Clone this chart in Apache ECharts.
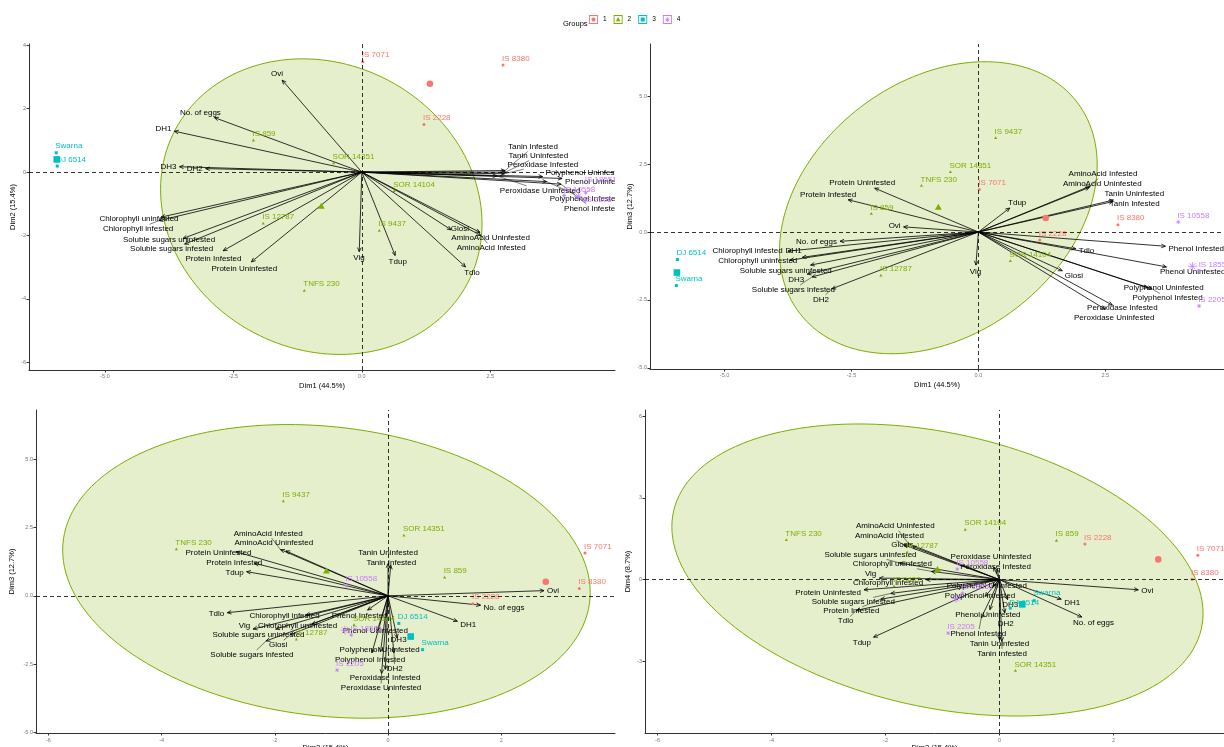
<!DOCTYPE html>
<html>
<head>
<meta charset="utf-8">
<title>PCA biplots of sorghum genotypes</title>
<script src="https://cdn.jsdelivr.net/npm/echarts@6/dist/echarts.min.js"></script>
<style>
  html, body { margin: 0; padding: 0; background: #ffffff; }
  #chart { width: 1224px; height: 747px; }
</style>
</head>
<body>
<div id="chart"></div>
<script>
// ---- Individuals (genotypes), their group and PC scores ----
const groupNames = ['1', '2', '3', '4'];
const genotypes = ['IS 7071', 'IS 8380', 'IS 2228', 'IS 859', 'SOR 14351', 'SOR 14104', 'IS 9437',
                   'IS 12787', 'TNFS 230', 'Swarna', 'DJ 6514', 'IS 18551', 'IS 10558', 'IS 2205'];
const genotypeGroup = [1, 1, 1, 2, 2, 2, 2, 2, 2, 3, 3, 4, 4, 4];
const indDim1 = [0.02, 2.75, 1.21, -2.11, -0.55, 0.63, 0.34, -1.92, -1.12, -5.95, -5.93, 4.36, 3.94, 4.35];
const indDim2 = [3.48, 3.38, 1.50, 1.00, 0.28, -0.60, -1.85, -1.62, -3.74, 0.61, 0.19, -0.65, -0.74, -0.90];
const indDim3 = [1.57, 0.27, -0.29, 0.67, 2.21, -1.07, 3.46, -1.60, 1.70, -1.97, -1.01, -1.43, 0.37, -2.72];
const indDim4 = [0.90, 0.02, 1.31, 1.43, -3.34, 1.83, -0.24, 1.00, 1.45, -0.77, -1.04, -0.50, 0.39, -1.96];

// ---- Variables (arrows) and their biplot coordinates ----
const variables = ['Ovi', 'No. of eggs', 'DH1', 'DH3', 'DH2', 'Chlorophyll uninfested', 'Chlorophyll infested',
                   'Soluble sugars uninfested', 'Soluble sugars infested', 'Protein Infested', 'Protein Uninfested',
                   'Vig', 'Tdup', 'Tdlo', 'Glosi', 'AminoAcid Infested', 'AminoAcid Uninfested', 'Tanin Infested',
                   'Tanin Uninfested', 'Peroxidase Infested', 'Peroxidase Uninfested', 'Polyphenol Uninfested',
                   'Polyphenol Infested', 'Phenol Uninfested', 'Phenol Infested'];
const varDim1 = [-1.55, -2.87, -3.65, -3.55, -3.04, -3.91, -3.95, -3.48, -3.45, -2.70, -2.15,
                 -0.05, 0.65, 2.02, 1.74, 2.32, 2.30, 2.79, 2.80, 2.78, 2.63, 3.52, 3.60, 3.90, 3.88];
const varDim2 = [2.90, 1.72, 1.29, 0.17, 0.11, -1.42, -1.53, -2.09, -2.27, -2.48, -2.83,
                 -2.51, -2.63, -2.99, -1.82, -2.00, -1.90, 0.05, 0.00, -0.05, -0.12, -0.14, -0.30, -0.20, -0.38];
const varDim3 = [0.20, -0.36, -0.98, -1.63, -2.20, -1.09, -0.74, -1.28, -1.74, 1.25, 1.70,
                 -1.28, 0.93, -0.65, -1.50, 1.78, 1.73, 1.18, 1.24, -2.83, -2.99, -2.16, -2.20, -1.35, -0.55];
const varDim4 = [-0.44, -1.63, -0.85, -0.87, -1.45, 0.36, 0.00, 0.73, -0.60, -0.85, -0.44,
                 0.07, -2.51, -1.34, 1.45, 1.52, 1.57, -2.69, -2.62, 0.46, 0.55, -0.29, -0.73, -1.31, -1.67];

// ---- Panels: which dimensions go on x / y, and the arrow scaling of each biplot ----
const dimLabels = ['Dim1 (44.5%)', 'Dim2 (15.4%)', 'Dim3 (12.7%)', 'Dim4 (8.7%)'];
const panelDims = [[0, 1], [0, 2], [1, 2], [1, 3]];
const arrowScale = [1.00, 0.95, 0.95, 0.84];
const xTickValues = [[-5, -2.5, 0, 2.5], [-5, -2.5, 0, 2.5], [-6, -4, -2, 0, 2], [-6, -4, -2, 0, 2]];
const yTickValues = [[-6, -4, -2, 0, 2, 4], [-5, -2.5, 0, 2.5, 5], [-5, -2.5, 0, 2.5, 5], [-3, 0, 3, 6]];
const xTickDecimals = [1, 1, 0, 0];
const yTickDecimals = [0, 1, 1, 0];
const axisRanges = [
  { x: [-6.48, 4.93], y: [-6.24, 4.04] },
  { x: [-6.47, 4.84], y: [-5.04, 6.92] },
  { x: [-6.22, 4.01], y: [-5.02, 6.80] },
  { x: [-6.22, 3.94], y: [-5.62, 6.22] }
];
const ellipseGroup = 2;      // only group 2 has enough genotypes for an ellipse
const ellipseLevel = 0.90;

// ---- Layout and styling ----
const gridBoxes = [
  { left: 29, top: 44, width: 586, height: 326 },
  { left: 650, top: 44, width: 574, height: 325 },
  { left: 36, top: 410, width: 579, height: 323 },
  { left: 645, top: 410, width: 579, height: 323 }
];
const yNameGap = [12, 15, 20, 13];
const xNameGap = [12, 12, 11, 11];
const xLabelMargin = [3, 3, 4, 4];
const groupColors = ['#F8766D', '#7CAE00', '#00BFC4', '#C77CFF'];
const FONT = '"Liberation Sans", Arial, Helvetica, sans-serif';
const labelSize = 8;
const labelHeight = 9;

const dims = [indDim1, indDim2, indDim3, indDim4];
const vdims = [varDim1, varDim2, varDim3, varDim4];

const measureCtx = document.createElement('canvas').getContext('2d');
function textWidth(s, size) {
  measureCtx.font = size + 'px ' + FONT;
  return measureCtx.measureText(s).width;
}

// Pixel scale of a panel, used only to lay out the text labels
function panelScale(p) {
  const b = gridBoxes[p], r = axisRanges[p];
  return { sx: b.width / (r.x[1] - r.x[0]), sy: b.height / (r.y[1] - r.y[0]) };
}

// Simple label repulsion: pushes overlapping boxes apart, with a weak pull back to the start
function repel(boxes) {
  const pos = boxes.map(b => [b.cx, b.cy]);
  const pad = 1;
  for (let it = 0; it < 400; it++) {
    for (let i = 0; i < boxes.length; i++) {
      for (let j = i + 1; j < boxes.length; j++) {
        const ox = (boxes[i].w + boxes[j].w) / 2 + pad - Math.abs(pos[i][0] - pos[j][0]);
        const oy = (boxes[i].h + boxes[j].h) / 2 + pad - Math.abs(pos[i][1] - pos[j][1]);
        if (ox > 0 && oy > 0) {
          if (oy <= ox) {
            const s = (pos[i][1] < pos[j][1] || (pos[i][1] === pos[j][1] && i < j)) ? -1 : 1;
            pos[i][1] += s * oy * 0.25; pos[j][1] -= s * oy * 0.25;
          } else {
            const s = pos[i][0] < pos[j][0] ? -1 : 1;
            pos[i][0] += s * ox * 0.25; pos[j][0] -= s * ox * 0.25;
          }
        }
      }
    }
    for (let i = 0; i < boxes.length; i++) {
      pos[i][0] += (boxes[i].cx - pos[i][0]) * 0.01;
      pos[i][1] += (boxes[i].cy - pos[i][1]) * 0.01;
    }
  }
  return pos;
}

// Shape of each group's marker (circle, triangle, square, asterisk)
function groupSymbol(g, c, s, color) {
  const x = c[0], y = c[1];
  if (g === 1) {
    return { type: 'circle', shape: { cx: x, cy: y, r: s }, style: { fill: color } };
  }
  if (g === 2) {
    return { type: 'polygon', shape: { points: [[x, y - s * 1.2], [x + s * 1.05, y + s * 0.65], [x - s * 1.05, y + s * 0.65]] },
             style: { fill: color } };
  }
  if (g === 3) {
    return { type: 'rect', shape: { x: x - s, y: y - s, width: 2 * s, height: 2 * s }, style: { fill: color } };
  }
  const r = s * 1.3, d = r * 0.7071;
  const segs = [[x - r, y, x + r, y], [x, y - r, x, y + r], [x - d, y - d, x + d, y + d], [x - d, y + d, x + d, y - d]];
  return {
    type: 'group',
    children: segs.map(q => ({ type: 'line', shape: { x1: q[0], y1: q[1], x2: q[2], y2: q[3] },
                               style: { stroke: color, lineWidth: 0.8 } }))
  };
}

// Leader line from an anchor to the edge of its label box, when the label has drifted away
function leader(anchor, cx, cy, w, h, color) {
  const vx = anchor[0] - cx, vy = anchor[1] - cy;
  const tx = Math.abs(vx) > 1e-6 ? (w / 2) / Math.abs(vx) : Infinity;
  const ty = Math.abs(vy) > 1e-6 ? (h / 2) / Math.abs(vy) : Infinity;
  const t = Math.min(tx, ty);
  if (t >= 1) return null;
  const ex = cx + vx * t, ey = cy + vy * t;
  if (Math.hypot(anchor[0] - ex, anchor[1] - ey) < 7) return null;
  return { type: 'line', shape: { x1: ex, y1: ey, x2: anchor[0], y2: anchor[1] },
           style: { stroke: color, lineWidth: 0.5 } };
}

// Normal-theory ellipse of one group, drawn through the panel's axes
function ellipseRenderer(dx, dy) {
  return function (params, api) {
    const xs = [], ys = [];
    genotypes.forEach((_, i) => {
      if (genotypeGroup[i] === ellipseGroup) { xs.push(dims[dx][i]); ys.push(dims[dy][i]); }
    });
    const n = xs.length;
    const mx = xs.reduce((a, b) => a + b, 0) / n;
    const my = ys.reduce((a, b) => a + b, 0) / n;
    let sxx = 0, syy = 0, sxy = 0;
    for (let i = 0; i < n; i++) {
      sxx += (xs[i] - mx) * (xs[i] - mx);
      syy += (ys[i] - my) * (ys[i] - my);
      sxy += (xs[i] - mx) * (ys[i] - my);
    }
    sxx /= (n - 1); syy /= (n - 1); sxy /= (n - 1);
    const d2 = n - 1;
    const fq = (d2 / 2) * (Math.pow(1 - ellipseLevel, -2 / d2) - 1);   // F(level; 2, n-1)
    const r = Math.sqrt(2 * fq);
    const l11 = Math.sqrt(sxx), l21 = sxy / l11, l22 = Math.sqrt(Math.max(syy - l21 * l21, 0));
    const pts = [];
    for (let k = 0; k < 160; k++) {
      const t = 2 * Math.PI * k / 160, c = Math.cos(t), s = Math.sin(t);
      pts.push(api.coord([mx + r * l11 * c, my + r * (l21 * c + l22 * s)]));
    }
    return { type: 'polygon', shape: { points: pts },
             style: { fill: 'rgba(124,174,0,0.2)', stroke: '#7CAE00', lineWidth: 1 } };
  };
}

// Variable arrows with open heads and their names (label offsets in data columns 3 and 4)
function arrowRenderer(params, api) {
  const i = api.value(2);
  const o = api.coord([0, 0]);
  const t = api.coord([api.value(0), api.value(1)]);
  const dx = t[0] - o[0], dy = t[1] - o[1];
  const ang = Math.atan2(dy, dx), head = 4.5, spread = 0.42;
  const h1 = [t[0] - head * Math.cos(ang - spread), t[1] - head * Math.sin(ang - spread)];
  const h2 = [t[0] - head * Math.cos(ang + spread), t[1] - head * Math.sin(ang + spread)];
  const label = variables[i];
  const cx = t[0] + api.value(3), cy = t[1] + api.value(4);
  const children = [
    { type: 'line', shape: { x1: o[0], y1: o[1], x2: t[0], y2: t[1] }, style: { stroke: '#000', lineWidth: 0.8 } },
    { type: 'polyline', shape: { points: [h1, t, h2] }, style: { stroke: '#000', lineWidth: 0.8, fill: 'none' } },
    { type: 'text', style: { text: label, x: cx, y: cy, fill: '#000',
                             fontSize: labelSize, fontFamily: FONT, align: 'center', verticalAlign: 'middle' } }
  ];
  const seg = leader(t, cx, cy, textWidth(label, labelSize), labelHeight, '#000');
  if (seg) children.push(seg);
  return { type: 'group', children: children };
}

// Genotype points (and group mean points) with their names
function pointRenderer(g) {
  const color = groupColors[g - 1];
  return function (params, api) {
    const idx = api.value(2);
    const c = api.coord([api.value(0), api.value(1)]);
    if (idx < 0) return groupSymbol(g, c, 3.3, color);
    const cx = c[0] + api.value(3), cy = c[1] + api.value(4);
    const children = [
      groupSymbol(g, c, 1.5, color),
      { type: 'text', style: { text: genotypes[idx], x: cx, y: cy, fill: color,
                               fontSize: labelSize, fontFamily: FONT, align: 'center', verticalAlign: 'middle' } }
    ];
    const seg = leader(c, cx, cy, textWidth(genotypes[idx], labelSize), labelHeight, color);
    if (seg) children.push(seg);
    return { type: 'group', children: children };
  };
}

const grids = [], xAxes = [], yAxes = [], series = [];
panelDims.forEach((pd, p) => {
  const [dx, dy] = pd;
  const sc = panelScale(p);
  grids.push(Object.assign({ containLabel: false, outerBoundsMode: 'none' }, gridBoxes[p]));
  const axisCommon = {
    type: 'value', gridIndex: p, splitLine: { show: false },
    axisLine: { show: true, onZero: false, lineStyle: { color: '#333', width: 1 } },
    nameLocation: 'middle', nameTextStyle: { fontSize: 7.5, fontFamily: FONT, color: '#000' }
  };
  xAxes.push(Object.assign({}, axisCommon, {
    min: axisRanges[p].x[0], max: axisRanges[p].x[1], name: dimLabels[dx], nameGap: xNameGap[p],
    axisTick: { show: true, length: 2.5, customValues: xTickValues[p], lineStyle: { color: '#333' } },
    axisLabel: { customValues: xTickValues[p], fontSize: 5.5, color: '#777', fontFamily: FONT, margin: xLabelMargin[p],
                 formatter: v => Number(v).toFixed(xTickDecimals[p]) }
  }));
  yAxes.push(Object.assign({}, axisCommon, {
    min: axisRanges[p].y[0], max: axisRanges[p].y[1], name: dimLabels[dy], nameGap: yNameGap[p], nameRotate: 90,
    axisTick: { show: true, length: 2.5, customValues: yTickValues[p], lineStyle: { color: '#333' } },
    axisLabel: { customValues: yTickValues[p], fontSize: 5.5, color: '#777', fontFamily: FONT, margin: 3,
                 formatter: v => Number(v).toFixed(yTickDecimals[p]) }
  }));

  series.push({
    type: 'custom', name: 'ellipse', xAxisIndex: p, yAxisIndex: p, clip: true, silent: true, z: 1,
    data: [[0, 0]], encode: { x: 0, y: 1 }, renderItem: ellipseRenderer(dx, dy),
    markLine: {
      silent: true, symbol: ['none', 'none'], label: { show: false }, animation: false,
      lineStyle: { color: '#000', type: [4, 3], width: 0.8 },
      data: [{ xAxis: 0 }, { yAxis: 0 }]
    }
  });

  // Variable labels: start just beyond each arrow tip, then spread apart
  const tips = variables.map((_, i) => [vdims[dx][i] * arrowScale[p], vdims[dy][i] * arrowScale[p]]);
  const vBoxes = tips.map((tp, i) => {
    const px = tp[0] * sc.sx, py = -tp[1] * sc.sy;
    const len = Math.hypot(px, py) || 1, ux = px / len, uy = py / len;
    const w = textWidth(variables[i], labelSize) + 2, h = labelHeight;
    const ax = Math.abs(ux) > 1e-6 ? (w / 2) / Math.abs(ux) : Infinity;
    const ay = Math.abs(uy) > 1e-6 ? (h / 2) / Math.abs(uy) : Infinity;
    const d = 2 + Math.min(ax, ay);
    return { cx: px + ux * d, cy: py + uy * d, w: w, h: h, ax: px, ay: py };
  });
  const vPos = repel(vBoxes);
  series.push({
    type: 'custom', name: 'variables', xAxisIndex: p, yAxisIndex: p, clip: true, silent: true, z: 3,
    data: tips.map((tp, i) => [tp[0], tp[1], i, vPos[i][0] - vBoxes[i].ax, vPos[i][1] - vBoxes[i].ay]),
    encode: { x: 0, y: 1 }, renderItem: arrowRenderer
  });

  // Genotype labels: start above-right of each point, then spread apart
  const gBoxes = genotypes.map((name, i) => {
    const px = dims[dx][i] * sc.sx, py = -dims[dy][i] * sc.sy;
    const w = textWidth(name, labelSize) + 2, h = labelHeight;
    return { cx: px - 2 + w / 2, cy: py - 2 - h / 2, w: w, h: h, ax: px, ay: py };
  });
  const gPos = repel(gBoxes);

  for (let g = 1; g <= 4; g++) {
    const members = genotypes.map((_, i) => i).filter(i => genotypeGroup[i] === g);
    const data = members.map(i => [dims[dx][i], dims[dy][i], i, gPos[i][0] - gBoxes[i].ax, gPos[i][1] - gBoxes[i].ay]);
    const mean = k => members.reduce((a, i) => a + dims[k][i], 0) / members.length;
    data.push([mean(dx), mean(dy), -1, 0, 0]);
    series.push({
      type: 'custom', name: groupNames[g - 1], xAxisIndex: p, yAxisIndex: p, clip: true, z: 4,
      itemStyle: { color: groupColors[g - 1] },
      data: data, encode: { x: 0, y: 1 }, renderItem: pointRenderer(g)
    });
  }
});

// Legend keys: outlined box with the group marker inside
const box = 'M0 0H20V20H0Z M2 2V18H18V2Z ';
const legendIcons = [
  'path://' + box + 'M10 5.5A4.5 4.5 0 1 0 10 14.5A4.5 4.5 0 1 0 10 5.5Z',
  'path://' + box + 'M10 4.5L15 14H5Z',
  'path://' + box + 'M5.5 5.5H14.5V14.5H5.5Z',
  'path://' + box + 'M9.3 4.5H10.7V15.5H9.3Z M4.5 9.3H15.5V10.7H4.5Z M6.3 5.3L14.7 13.7L13.7 14.7L5.3 6.3Z M13.7 5.3L14.7 6.3L6.3 14.7L5.3 13.7Z'
];

const chart = echarts.init(document.getElementById('chart'), null, { renderer: 'canvas' });
chart.setOption({
  animation: false,
  backgroundColor: '#ffffff',
  textStyle: { fontFamily: FONT },
  title: {
    text: 'Groups', left: 558, top: 15,
    textStyle: { fontSize: 7.5, fontWeight: 'normal', color: '#000', fontFamily: FONT }
  },
  legend: {
    data: groupNames.map((n, i) => ({ name: n, icon: legendIcons[i] })),
    left: 589, top: 15, itemWidth: 9, itemHeight: 9, itemGap: 7, padding: 0,
    textStyle: { fontSize: 6.5, color: '#000', fontFamily: FONT }, selectedMode: false
  },
  grid: grids,
  xAxis: xAxes,
  yAxis: yAxes,
  series: series
});
</script>
</body>
</html>
